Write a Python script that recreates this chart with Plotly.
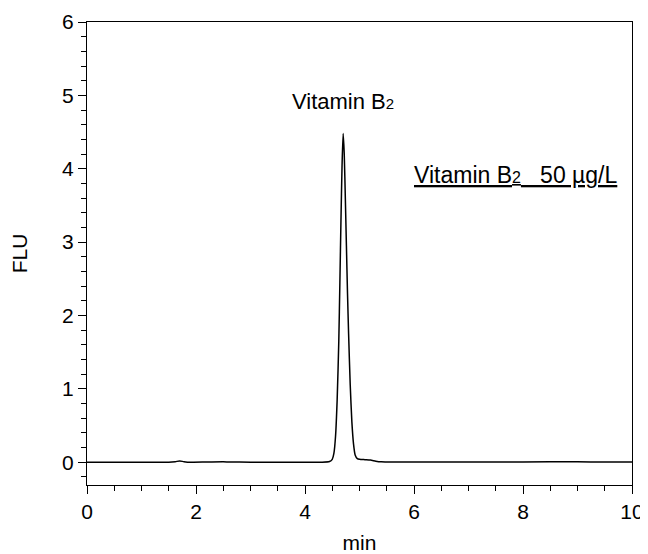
import plotly.graph_objects as go

# Retention time (min) and fluorescence signal (FLU)
time_min = [0.0, 0.5, 1.0, 1.5, 1.62, 1.70, 1.78, 1.9, 2.2, 2.5, 2.6, 2.8, 3.2, 3.6, 4.0, 4.3,
            4.45, 4.50, 4.53, 4.56, 4.59, 4.62, 4.64, 4.66, 4.68, 4.70, 4.72, 4.74, 4.76, 4.78,
            4.80, 4.83, 4.86, 4.89, 4.92, 4.96, 5.00, 5.10, 5.20, 5.30, 5.40, 5.6, 6.0, 7.0,
            8.0, 9.0, 9.5, 10.0]
signal_flu = [0.0, 0.0, 0.0, 0.0, 0.008, 0.018, 0.008, 0.0, 0.003, 0.006, 0.004, 0.002, 0.0, 0.0, 0.0, 0.0,
              0.01, 0.04, 0.12, 0.35, 0.85, 1.65, 2.45, 3.3, 4.05, 4.48, 4.2, 3.6, 2.95, 2.3,
              1.75, 1.05, 0.55, 0.25, 0.1, 0.05, 0.04, 0.035, 0.03, 0.015, 0.006, 0.003, 0.004, 0.004,
              0.005, 0.006, 0.004, 0.003]

x_ticks = [0, 2, 4, 6, 8, 10]
y_ticks = [0, 1, 2, 3, 4, 5, 6]

peak_label = 'Vitamin B<span style="font-size:15px">2</span>'
peak_time = 4.70
peak_label_y = 4.92
sample_label = '<u>Vitamin B<span style="font-size:16px">2</span>   50 µg/L</u>'
sample_label_x = 7.87
sample_label_y = 3.92

font_family = "Liberation Sans, Arial, sans-serif"

fig = go.Figure()
fig.add_trace(go.Scatter(
    x=time_min, y=signal_flu, mode="lines",
    line=dict(color="black", width=1.5, shape="spline", smoothing=0.6),
    showlegend=False, hoverinfo="skip",
))

fig.add_annotation(x=peak_time, y=peak_label_y, text=peak_label, showarrow=False,
                   font=dict(size=22, color="black", family=font_family))
fig.add_annotation(x=sample_label_x, y=sample_label_y, text=sample_label, showarrow=False,
                   font=dict(size=23, color="black", family=font_family))

axis_common = dict(
    showline=True, linecolor="black", linewidth=1, mirror=True,
    ticks="outside", ticklen=8, tickwidth=1, tickcolor="black",
    showgrid=False, zeroline=False, automargin=False,
    tickfont=dict(size=21, color="black", family=font_family),
)

fig.update_xaxes(
    range=[0, 10], tickvals=x_ticks,
    minor=dict(ticks="outside", ticklen=5, dtick=0.5, tickcolor="black", tickwidth=1),
    title=dict(text="min", font=dict(size=21, color="black", family=font_family), standoff=14),
    **axis_common,
)
fig.update_yaxes(
    range=[-0.31, 6], tickvals=y_ticks,
    minor=dict(ticks="outside", ticklen=5, dtick=0.2, tickcolor="black", tickwidth=1),
    title=dict(text="FLU", font=dict(size=21, color="black", family=font_family), standoff=30),
    **axis_common,
)

# The page body adds an 8 px offset, so the figure is sized to fit inside the window.
fig.update_layout(
    width=640, height=546,
    margin=dict(l=79, r=16, t=14, b=69),
    plot_bgcolor="white", paper_bgcolor="white",
    font=dict(family=font_family, color="black"),
)

fig.write_html("out.html")
